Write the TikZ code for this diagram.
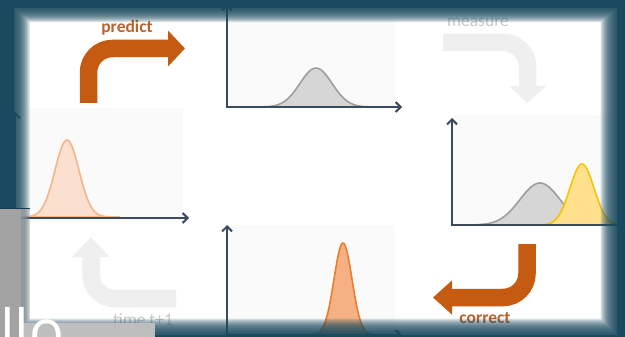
\documentclass[tikz,border=0pt]{standalone}
\usepackage{fontspec}
\setmainfont{Carlito}
\newfontfamily\helloface{Open Sans}
\usetikzlibrary{arrows.meta}

\definecolor{frameteal}{HTML}{1A4A5F}
\definecolor{axisslate}{HTML}{3B4A5D}
\definecolor{stepOrange}{HTML}{C55A11}
\definecolor{labelOrange}{HTML}{B9622C}
\definecolor{ghostGray}{HTML}{EFEFEF}
\definecolor{ghostText}{HTML}{C9C9C9}
\definecolor{panelBg}{HTML}{FAFAFA}
\definecolor{overlayGray}{HTML}{A3A3A3}
\definecolor{peachFill}{HTML}{FBE0D0}
\definecolor{peachLine}{HTML}{F2B58C}
\definecolor{bellFill}{HTML}{F5B183}
\definecolor{bellLine}{HTML}{EB7D2E}
\definecolor{sunFill}{HTML}{FFE08C}
\definecolor{sunLine}{HTML}{F2C40C}

\tikzset{
  axes/.style={draw=axisslate, line width=2pt, line join=miter,
    {Straight Barb[length=5pt,width=10pt]}-{Straight Barb[length=5pt,width=10pt]}},
  bendarrow/.style={draw=#1, line width=17.5pt, rounded corners=24pt},
  steplabel/.style={font=\bfseries\fontsize{17.5}{17.5}\selectfont, text=labelOrange},
  ghostlabel/.style={font=\fontsize{17.5}{17.5}\selectfont, text=ghostText},
}

\begin{document}
\begin{tikzpicture}[x=1pt,y=-1pt]
    \useasboundingbox (0,0) rectangle (625,337);
    \fill[white] (0,0) rectangle (625,337);

    % panels
    \fill[panelBg] (28,108) rectangle (183,222);
    \fill[panelBg] (228,18) rectangle (395,107);
    \fill[panelBg] (452,115) rectangle (612,225);
    \fill[panelBg] (228,225) rectangle (395,337);

    % state at time t
    \filldraw[fill=peachFill, draw=peachLine, line width=1.6pt]
        plot[domain=15:120, samples=70] (\x,{217-77*exp(-((\x-67)/12)^2/2)}) -- cycle;
    \draw[axes] (15,112) -- (15,218) -- (189,218);

    % prediction
    \filldraw[fill=black!16, draw=black!38, line width=1.6pt]
        plot[domain=240:392, samples=70] (\x,{107-39*exp(-((\x-316)/16)^2/2)}) -- cycle;
    \draw[axes] (227,4) -- (227,107) -- (402,107);

    % measurement
    \filldraw[fill=black!16, draw=black!38, line width=1.6pt]
        plot[domain=458:622, samples=80] (\x,{225-42*exp(-((\x-540)/20)^2/2)}) -- cycle;
    \filldraw[fill=sunFill, draw=sunLine, line width=1.6pt]
        plot[domain=530:625, samples=70] (\x,{225-61*exp(-((\x-582)/12)^2/2)}) -- cycle;
    \draw[axes] (452,118) -- (452,225) -- (624,225);

    % corrected
    \filldraw[fill=bellFill, draw=bellLine, line width=1.6pt]
        plot[domain=305:381, samples=70] (\x,{335-92*exp(-((\x-343)/9)^2/2)}) -- cycle;
    \draw[axes] (227,225) -- (227,335) -- (402,335);

    % cycle arrows
    \coordinate (predictFrom) at (88.5,103);
    \coordinate (predictBend) at (88.5,48.5);
    \coordinate (predictTo) at (185,48.5);
    \draw[bendarrow=stepOrange, -{Triangle[length=17pt,width=35pt]}]
        (predictFrom) -- (predictBend) -- (predictTo);
    \node[steplabel] (predict) at (127,28) {predict};

    \coordinate (measureFrom) at (443,42.5);
    \coordinate (measureBend) at (527.5,42.5);
    \coordinate (measureTo) at (527.5,103);
    \draw[bendarrow=ghostGray, -{Triangle[length=17pt,width=36pt]}]
        (measureFrom) -- (measureBend) -- (measureTo);
    \node[ghostlabel] (measure) at (478,22) {measure};

    \coordinate (correctFrom) at (527,244);
    \coordinate (correctBend) at (527,297.5);
    \coordinate (correctTo) at (433,297.5);
    \draw[bendarrow=stepOrange, -{Triangle[length=19pt,width=33pt]}]
        (correctFrom) -- (correctBend) -- (correctTo);
    \node[steplabel] (correct) at (485,318) {correct};

    \coordinate (timeFrom) at (176,298.5);
    \coordinate (timeBend) at (91,298.5);
    \coordinate (timeTo) at (91,237);
    \draw[bendarrow=ghostGray, -{Triangle[length=20pt,width=36pt]}]
        (timeFrom) -- (timeBend) -- (timeTo);
    \node[ghostlabel] (time) at (143,320) {time t+1};

    % dark frame, soft inner edge
    \fill[frameteal, even odd rule] (0,0) rectangle (625,337) (14,8) rectangle (617,335);
    \foreach \k in {0,...,15}
        \fill[frameteal, opacity=0.14, even odd rule] (0,0) rectangle (625,337)
            ({14+1.05*\k},{8+0.95*\k}) rectangle ({617-1.1*\k},{335-1.1*\k});

    % gray overlay bottom left
    \fill[overlayGray] (0,208) rectangle (21,337);
    \fill[overlayGray!70!white] (21,323) rectangle (155,337);
    \foreach \k in {1,...,6}
        \fill[overlayGray, opacity=0.2] (21,208) rectangle ({21+1.5*\k},323);
    \draw[frameteal!80!black, line width=1pt] (0,208) -- (30,208);
    \node[anchor=base west, inner sep=0pt, text=white,
          font=\helloface\fontsize{58}{58}\selectfont] (hello) at (0,351) {llo};
\end{tikzpicture}
\end{document}
